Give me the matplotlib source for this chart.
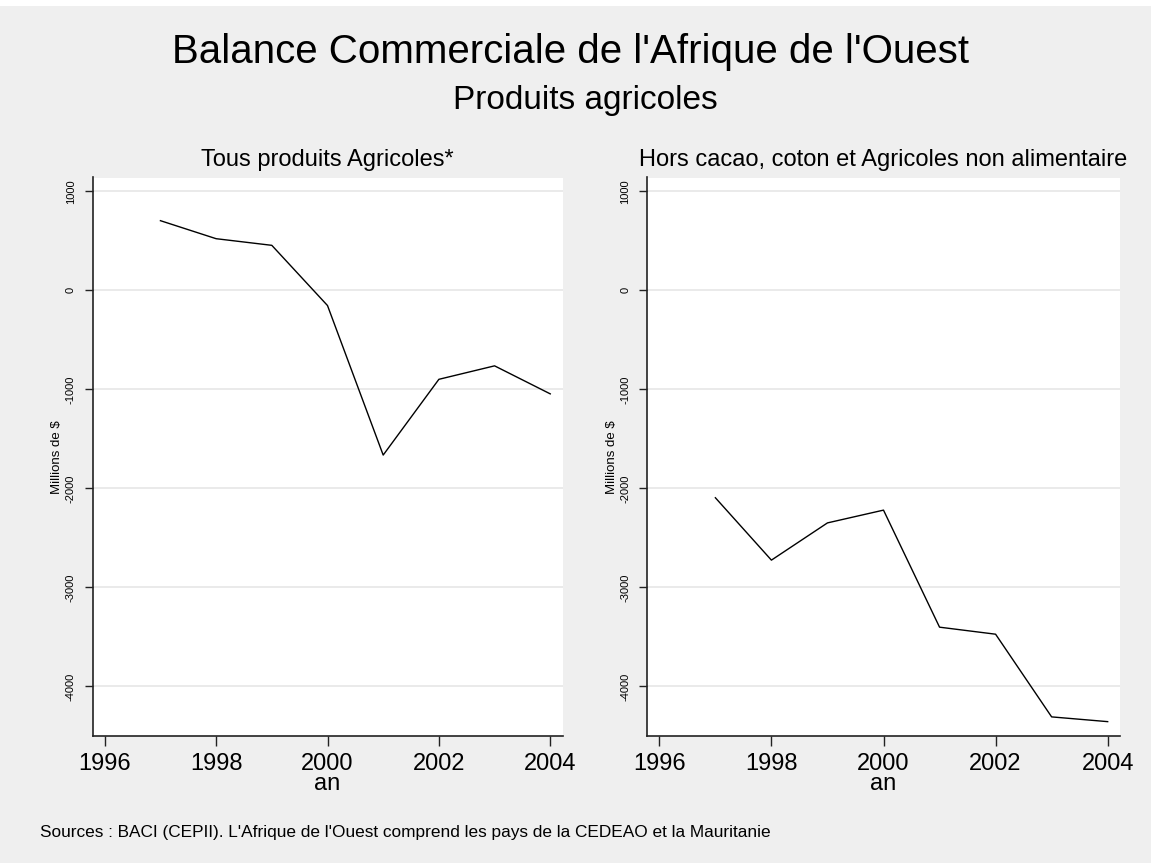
import matplotlib.pyplot as plt
from matplotlib.patches import Rectangle

plt.rcParams['font.family'] = ['Liberation Sans', 'DejaVu Sans']
plt.rcParams['axes.unicode_minus'] = False

# Données (millions de $)
annees = [1997, 1998, 1999, 2000, 2001, 2002, 2003, 2004]
tous_produits = [704, 522, 455, -153, -1663, -898, -762, -1045]
hors_cacao_coton = [-2094, -2724, -2348, -2219, -3401, -3472, -4307, -4355]

titres_panneaux = ["Tous produits Agricoles*",
                   "Hors cacao, coton et Agricoles non alimentaire"]
y_ticks = [1000, 0, -1000, -2000, -3000, -4000]
x_ticks = [1996, 1998, 2000, 2002, 2004]

W, H = 1151, 863
fig = plt.figure(figsize=(W / 100, H / 100), dpi=100, facecolor='#efefef')

# bande blanche en haut (légende coupée du document)
fig.patches.append(Rectangle((0, 1 - 6 / H), 1, 6 / H, transform=fig.transFigure,
                             facecolor='white', edgecolor='none', zorder=0))

fig.text(571 / W, 1 - 52 / H, "Balance Commerciale de l'Afrique de l'Ouest",
         ha='center', va='center', fontsize=29, color='black')
fig.text(585 / W, 1 - 100 / H, "Produits agricoles",
         ha='center', va='center', fontsize=24, color='black')

positions = [(92.5, 470), (647, 473)]
series = [tous_produits, hors_cacao_coton]

for (gauche, largeur), valeurs, titre in zip(positions, series, titres_panneaux):
    ax = fig.add_axes([gauche / W, 127 / H, largeur / W, 558.5 / H])
    ax.set_facecolor('white')
    ax.plot(annees, valeurs, color='black', linewidth=1.0)
    ax.set_xlim(1995.78, 2004.22)
    ax.set_ylim(-4500, 1140)
    ax.set_yticks(y_ticks)
    ax.set_xticks(x_ticks)
    ax.yaxis.grid(True, color='#e6e6e6', linewidth=1.2)
    ax.set_axisbelow(True)
    for s in ['top', 'right']:
        ax.spines[s].set_visible(False)
    for s in ['left', 'bottom']:
        ax.spines[s].set_color('#222222')
        ax.spines[s].set_linewidth(1.2)
    ax.tick_params(axis='y', length=6, width=1, color='#222222', labelsize=8,
                   pad=6)
    for lab in ax.get_yticklabels():
        lab.set_rotation(90)
        lab.set_va('center')
    ax.tick_params(axis='x', length=7, width=1, color='#222222', labelsize=17,
                   pad=5)
    ax.set_title(titre, fontsize=17, pad=8)
    ax.set_ylabel("Millions de $", fontsize=9.5, labelpad=2)
    ax.set_xlabel("an", fontsize=17, labelpad=-1)

fig.text(40 / W, 1 - 832 / H,
         "Sources : BACI (CEPII). L'Afrique de l'Ouest comprend les pays de la CEDEAO et la Mauritanie",
         ha='left', va='center', fontsize=12.4)

fig.savefig('out.png', dpi=100, facecolor=fig.get_facecolor())
